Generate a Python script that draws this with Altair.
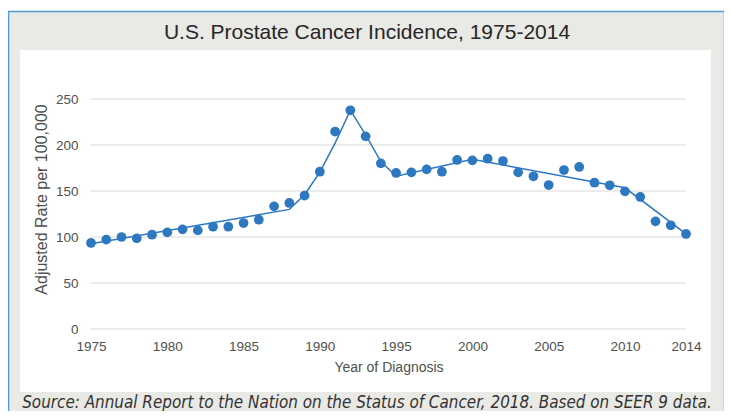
import altair as alt
import pandas as pd

years = list(range(1975, 2015))
rates = [93.5, 97.1, 100.0, 98.5, 102.5, 105.0, 108.3, 107.2, 111.2, 111.2,
         115.2, 118.8, 133.3, 137.0, 145.0, 171.0, 214.5, 237.7, 209.4, 180.0,
         169.6, 170.3, 173.5, 171.0, 183.7, 183.3, 185.1, 182.6, 170.3, 166.0,
         156.5, 172.8, 176.1, 159.0, 156.2, 149.6, 143.5, 117.0, 112.7, 103.3]

trend_years = [1975, 1988, 1989, 1990, 1991, 1992, 1993, 1994, 1995, 2000, 2010, 2014]
trend_rates = [92.7, 130.0, 146.0, 170.5, 202.0, 237.8, 210.9, 182.0, 166.0, 184.5, 153.5, 103.3]

y_ticks = [0, 50, 100, 150, 200, 250]
x_ticks = [1975, 1980, 1985, 1990, 1995, 2000, 2005, 2010, 2014]

title_text = "U.S. Prostate Cancer Incidence, 1975-2014"
caption_text = "Source: Annual Report to the Nation on the Status of Cancer, 2018. Based on SEER 9 data."
x_title = "Year of Diagnosis"
y_title = "Adjusted Rate per 100,000"

BLUE = "#2e78c2"

pts = pd.DataFrame({"Year": years, "Rate": rates})
trend = pd.DataFrame({"Year": trend_years, "Rate": trend_rates})
grid = pd.DataFrame({"Rate": y_ticks})
one = pd.DataFrame({"a": [0]})

xscale = alt.Scale(domain=[1975, 2014], nice=False, zero=False)
yscale = alt.Scale(domain=[0, 250], nice=False)

xaxis = alt.Axis(values=x_ticks, format="d", title=x_title, labelPadding=10,
                 titleY=38, titleBaseline="middle", labelFlush=False, zindex=2,
                 domain=False, ticks=False, grid=False, titleFontSize=14)
yaxis = alt.Axis(values=y_ticks, title=y_title, labelPadding=13,
                 titleAngle=-90, titleX=-50, titleY=100, titleBaseline="middle",
                 titleAlign="center", zindex=2, domain=False, ticks=False, grid=False,
                 titleFontSize=16)

bg = alt.Chart(one).mark_rect(fill="#e9e9e5", stroke="#4d9bd1", strokeWidth=1.5).encode(
    x=alt.value(-82.5), x2=alt.value(633.5), y=alt.value(-87.5), y2=alt.value(360)
)
panel = alt.Chart(one).mark_rect(fill="white").encode(
    x=alt.value(-71), x2=alt.value(620), y=alt.value(-49), y2=alt.value(293)
)
rules = alt.Chart(grid).mark_rule(color="#d9d9d9", strokeWidth=1).encode(
    y=alt.Y("Rate:Q", scale=yscale, axis=yaxis),
    x=alt.value(0), x2=alt.value(595)
)
line = alt.Chart(trend).mark_line(color=BLUE, strokeWidth=1.5).encode(
    x=alt.X("Year:Q", scale=xscale, axis=xaxis),
    y=alt.Y("Rate:Q", scale=yscale, axis=yaxis)
)
points = alt.Chart(pts).mark_circle(color=BLUE, size=95, opacity=1).encode(
    x=alt.X("Year:Q", scale=xscale, axis=xaxis),
    y=alt.Y("Rate:Q", scale=yscale, axis=yaxis)
)
title = alt.Chart(one).mark_text(text=title_text, font="Liberation Sans", fontSize=21,
                                 color="#262626", align="center", baseline="middle").encode(
    x=alt.value(276), y=alt.value(-66)
)
caption = alt.Chart(one).mark_text(text=caption_text,
                                   font="'DejaVu Sans Condensed', 'Liberation Sans', sans-serif",
                                   fontSize=16.9, fontStyle="italic", color="#333333",
                                   align="center", baseline="alphabetic").encode(
    x=alt.value(276), y=alt.value(309)
)

chart = alt.layer(bg, panel, rules, line, points, title, caption).properties(
    width=595, height=230,
    autosize=alt.AutoSizeParams(type="none"),
    padding={"left": 83, "top": 91, "right": 38, "bottom": 82},
    background="white",
).configure_view(stroke=None).configure_axis(
    labelFont="Liberation Sans", labelFontSize=13.5, labelColor="#505050",
    titleFont="Liberation Sans", titleColor="#505050",
    titleFontWeight="normal"
)

chart.save("out.html", embed_options={"renderer": "svg", "actions": False})
